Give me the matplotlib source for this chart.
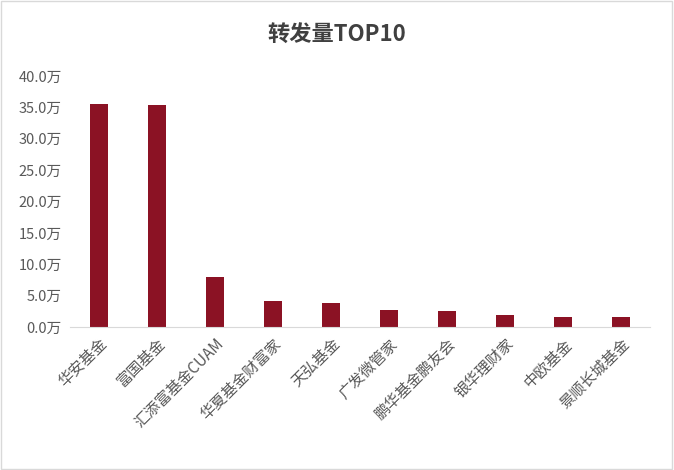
import matplotlib.pyplot as plt
import numpy as np

plt.rcParams['font.family'] = ['Noto Sans CJK SC', 'DejaVu Sans']

companies = ['华安基金', '富国基金', '汇添富基金CUAM', '华夏基金财富家', '天弘基金',
             '广发微管家', '鹏华基金鹏友会', '银华理财家', '中欧基金', '景顺长城基金']
reposts = [35.5, 35.3, 8.0, 4.1, 3.85, 2.75, 2.55, 1.9, 1.65, 1.65]  # 万
yticks = np.arange(0, 40.1, 5)

fig = plt.figure(figsize=(6.74, 4.7), dpi=100)
ax = fig.add_axes([70/674, 1-327/470, 580/674, 251/470])

x = np.arange(len(companies))
ax.bar(x, reposts, width=0.3, color='#8B1224')

ax.set_ylim(0, 40)
ax.set_xlim(-0.5, len(companies) - 0.5)
ax.set_yticks(yticks)
ax.set_yticklabels(['%.1f万' % v for v in yticks], fontsize=10.5, color='#595959')
ax.set_xticks(x)
ax.set_xticklabels(companies, rotation=45, ha='right', rotation_mode='anchor',
                   fontsize=11, color='#595959')
ax.tick_params(length=0, pad=6)
for s in ['top', 'right', 'left']:
    ax.spines[s].set_visible(False)
ax.spines['bottom'].set_color('#d9d9d9')

fig.text(0.5, 1-35/470, '转发量TOP10', ha='center', va='center',
         fontsize=16, fontweight='bold', color='#404040')

border = plt.Rectangle((0.002, 0.003), 0.995, 0.994, transform=fig.transFigure,
                       fill=False, edgecolor='#d9d9d9', linewidth=1)
fig.patches.append(border)

fig.savefig('out.png', dpi=100)
